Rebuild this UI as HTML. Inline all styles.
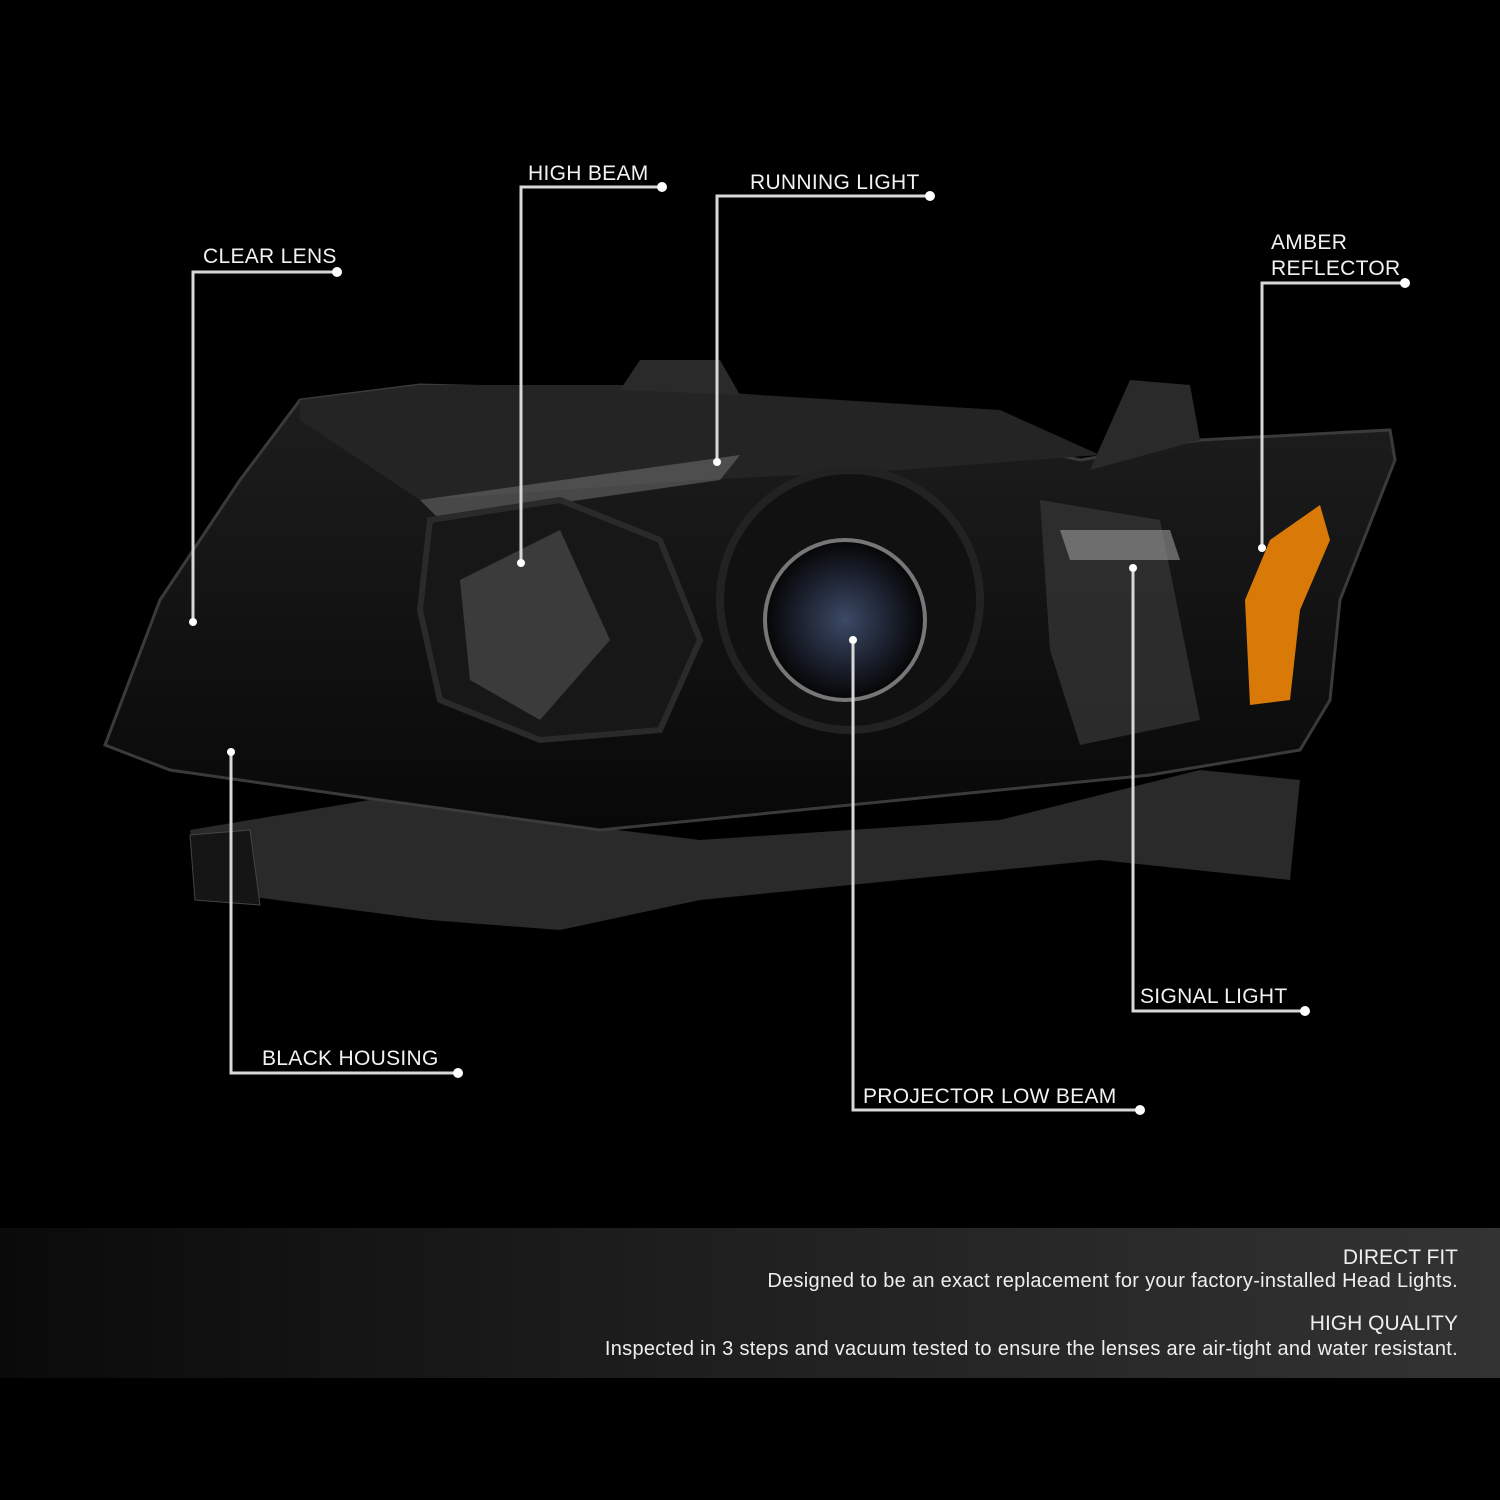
<!DOCTYPE html>
<html><head><meta charset="utf-8"><style>
html,body{margin:0;padding:0;background:#000;}
body{width:1500px;height:1500px;position:relative;overflow:hidden;font-family:"Liberation Sans",sans-serif;}
.l{position:absolute;color:#f2f2f2;font-size:21px;letter-spacing:0.3px;white-space:nowrap;}
.band{position:absolute;left:0;top:1228px;width:1500px;height:150px;background:linear-gradient(90deg,#0a0a0a 0%,#1c1c1c 40%,#333 100%);}
.band div{position:absolute;right:42px;color:#eee;white-space:nowrap;}
</style></head><body>
<svg width="1500" height="1500" style="position:absolute;left:0;top:0">
<defs>
<linearGradient id="hg" x1="0" y1="0" x2="0" y2="1"><stop offset="0" stop-color="#1e1e1e"/><stop offset="1" stop-color="#080808"/></linearGradient>
<radialGradient id="pg" cx="0.5" cy="0.5" r="0.5"><stop offset="0" stop-color="#3c4a66"/><stop offset="0.6" stop-color="#1a1f2c"/><stop offset="1" stop-color="#050505"/></radialGradient>
</defs>
<path d="M190 830 L370 800 L700 840 L1000 820 L1200 770 L1300 780 L1290 880 L1100 860 L900 880 L700 900 L560 930 L430 920 L200 890 Z" fill="#2a2a2a"/>
<path d="M190 835 L250 830 L260 905 L195 900 Z" fill="#151515" stroke="#444"/>
<path d="M105 745 L160 600 L240 480 L300 400 L420 385 L620 390 L760 400 L900 420 L1080 460 L1200 440 L1390 430 L1395 460 L1340 600 L1330 700 L1300 750 L1150 775 L900 800 L600 830 L380 800 L170 770 Z" fill="url(#hg)" stroke="#3a3a3a" stroke-width="3"/>
<path d="M300 400 L420 385 L620 385 L760 395 L1000 410 L1100 455 L900 470 L700 480 L420 500 L300 420 Z" fill="#242424"/>
<path d="M420 500 L740 455 L720 480 L440 520 Z" fill="#777" opacity="0.5"/>
<path d="M430 520 L560 500 L660 540 L700 640 L660 730 L540 740 L440 700 L420 610 Z" fill="#171717" stroke="#2a2a2a" stroke-width="6"/>
<path d="M460 580 L560 530 L610 640 L540 720 L470 680 Z" fill="#5a5a5a" opacity="0.55"/>
<circle cx="850" cy="600" r="130" fill="#111" stroke="#222" stroke-width="8"/>
<circle cx="845" cy="620" r="80" fill="url(#pg)" stroke="#777" stroke-width="4"/>
<path d="M1040 500 L1160 520 L1200 720 L1080 745 L1050 650 Z" fill="#333" opacity="0.8"/>
<path d="M1060 530 L1170 530 L1180 560 L1070 560 Z" fill="#999" opacity="0.6"/>
<path d="M1320 505 L1330 540 L1300 610 L1290 700 L1250 705 L1245 600 L1270 540 Z" fill="#d97a08"/>
<path d="M620 390 L640 360 L720 360 L740 395 Z" fill="#2a2a2a"/>
<path d="M1090 470 L1130 380 L1190 385 L1200 440 Z" fill="#2a2a2a"/>
<g stroke="#d8d8d8" stroke-width="3" fill="none">
<polyline points="193,622 193,272 337,272"/>
<polyline points="521,563 521,187 662,187"/>
<polyline points="717,462 717,196 930,196"/>
<polyline points="1262,548 1262,283 1405,283"/>
<polyline points="1133,568 1133,1011 1305,1011"/>
<polyline points="853,640 853,1110 1140,1110"/>
<polyline points="231,752 231,1073 458,1073"/>
</g>
<g fill="#fff">
<circle cx="193" cy="622" r="4"/><circle cx="337" cy="272" r="5"/>
<circle cx="521" cy="563" r="4"/><circle cx="662" cy="187" r="5"/>
<circle cx="717" cy="462" r="4"/><circle cx="930" cy="196" r="5"/>
<circle cx="1262" cy="548" r="4"/><circle cx="1405" cy="283" r="5"/>
<circle cx="1133" cy="568" r="4"/><circle cx="1305" cy="1011" r="5"/>
<circle cx="853" cy="640" r="4"/><circle cx="1140" cy="1110" r="5"/>
<circle cx="231" cy="752" r="4"/><circle cx="458" cy="1073" r="5"/>
</g>
</svg>
<div class="l" style="left:203px;top:245px">CLEAR LENS</div>
<div class="l" style="left:528px;top:162px">HIGH BEAM</div>
<div class="l" style="left:750px;top:171px">RUNNING LIGHT</div>
<div class="l" style="left:1271px;top:230px;line-height:26px">AMBER<br>REFLECTOR</div>
<div class="l" style="left:1140px;top:985px">SIGNAL LIGHT</div>
<div class="l" style="left:863px;top:1085px">PROJECTOR LOW BEAM</div>
<div class="l" style="left:262px;top:1047px">BLACK HOUSING</div>
<div class="band">
<div style="top:18px;font-size:21px">DIRECT FIT</div>
<div style="top:42px;font-size:20px;letter-spacing:0.3px">Designed to be an exact replacement for your factory-installed Head Lights.</div>
<div style="top:84px;font-size:21px">HIGH QUALITY</div>
<div style="top:110px;font-size:20px;letter-spacing:0.3px">Inspected in 3 steps and vacuum tested to ensure the lenses are air-tight and water resistant.</div>
</div>
</body></html>
